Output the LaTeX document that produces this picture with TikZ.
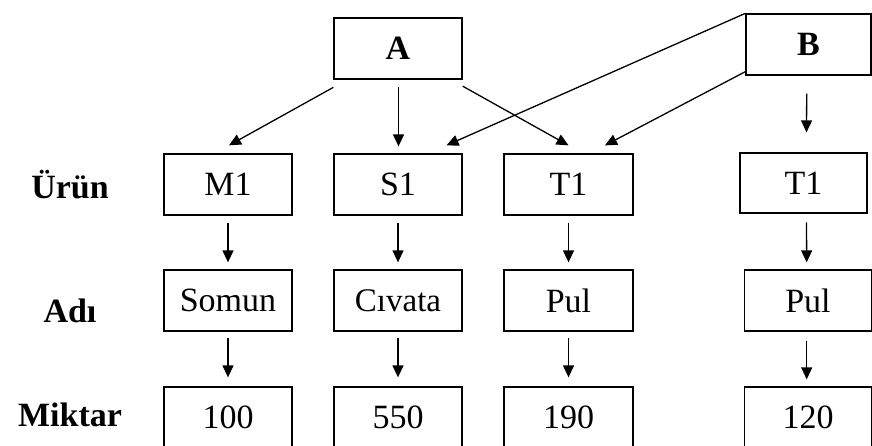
\documentclass[tikz,border=0pt]{standalone}
\usepackage{fontspec}
\setmainfont{Liberation Serif}
\usetikzlibrary{arrows.meta}
\tikzset{
  box/.style={draw, line width=1.3pt, inner sep=0pt, minimum width=128pt, minimum height=61pt, font=\fontsize{34}{40}\selectfont},
  lbl/.style={font=\fontsize{34}{40}\selectfont\bfseries, inner sep=0pt},
  arr/.style={line width=1.3pt, -{Triangle[length=12pt,width=11pt]}},
}
\begin{document}
\begin{tikzpicture}[x=1pt,y=-1pt]
\clip (0,0) rectangle (872,445);
\fill[white] (0,0) rectangle (872,445);
% top nodes
\node[box] (A) at (398,48.5) {\textbf{A}};
\node[box, minimum width=125pt] (B) at (808.5,44.5) {\textbf{B}};
% row 1
\node[box] (M1) at (228,184.5) {M1};
\node[box] (S1) at (398,184.5) {S1};
\node[box, minimum width=129pt] (T1) at (568.5,184.5) {T1};
\node[box, minimum width=127pt, minimum height=60pt] (T1b) at (803.5,183) {T1};
% row 2
\node[box] (Somun) at (228,300.5) {Somun};
\node[box] (Civata) at (398,300.5) {\fontsize{33}{38}\selectfont Cıvata};
\node[box, minimum width=129pt] (Pul) at (568.5,300.5) {Pul};
\node[box, minimum width=127pt] (Pulb) at (808,300.5) {Pul};
% row 3
\node[box, minimum height=60pt] (n100) at (228,417) {100};
\node[box, minimum height=60pt] (n550) at (398,417) {550};
\node[box, minimum height=60pt, minimum width=129pt] (n190) at (568.5,417) {190};
\node[box, minimum height=60pt, minimum width=127pt] (n120) at (808,417) {120};
% labels
\node[lbl] (lu) at (70,185) {Ürün};
\node[lbl] (la) at (70,311) {Adı};
\node[lbl] (lm) at (70,415) {Miktar};
% arrows from A
\draw[arr] ([shift={(0,7.7)}]A.south west) -- ([shift={(1,-8)}]M1.north);
\draw[arr] ([shift={(0.5,7)}]A.south) -- ([shift={(0.5,-7)}]S1.north);
\draw[arr] ([shift={(0,6.5)}]A.south east) -- ([shift={(0,-8)}]T1.north);
% arrows from B
\draw[arr] (B.north west) -- ([shift={(48.5,-8)}]S1.north);
\draw[arr] ([shift={(0,-4)}]B.south west) -- ([shift={(36.5,-8)}]T1.north);
\draw[arr] ([shift={(-1.8,18)}]B.south) -- ([shift={(3,-20)}]T1b.north);
% vertical arrows
\draw[arr] ([shift={(0,7)}]M1.south) -- ([shift={(0,-7)}]Somun.north);
\draw[arr] ([shift={(0,7)}]S1.south) -- ([shift={(0,-7)}]Civata.north);
\draw[arr] ([shift={(0,7)}]T1.south) -- ([shift={(0,-7)}]Pul.north);
\draw[arr] ([shift={(3,8.7)}]T1b.south) -- ([shift={(-1.3,-7)}]Pulb.north);
\draw[arr] ([shift={(0,6)}]Somun.south) -- ([shift={(0,-9)}]n100.north);
\draw[arr] ([shift={(0,6)}]Civata.south) -- ([shift={(0,-9)}]n550.north);
\draw[arr] ([shift={(0,6)}]Pul.south) -- ([shift={(0,-9)}]n190.north);
\draw[arr] ([shift={(-1.3,9)}]Pulb.south) -- ([shift={(-1.3,-7)}]n120.north);
\end{tikzpicture}
\end{document}
